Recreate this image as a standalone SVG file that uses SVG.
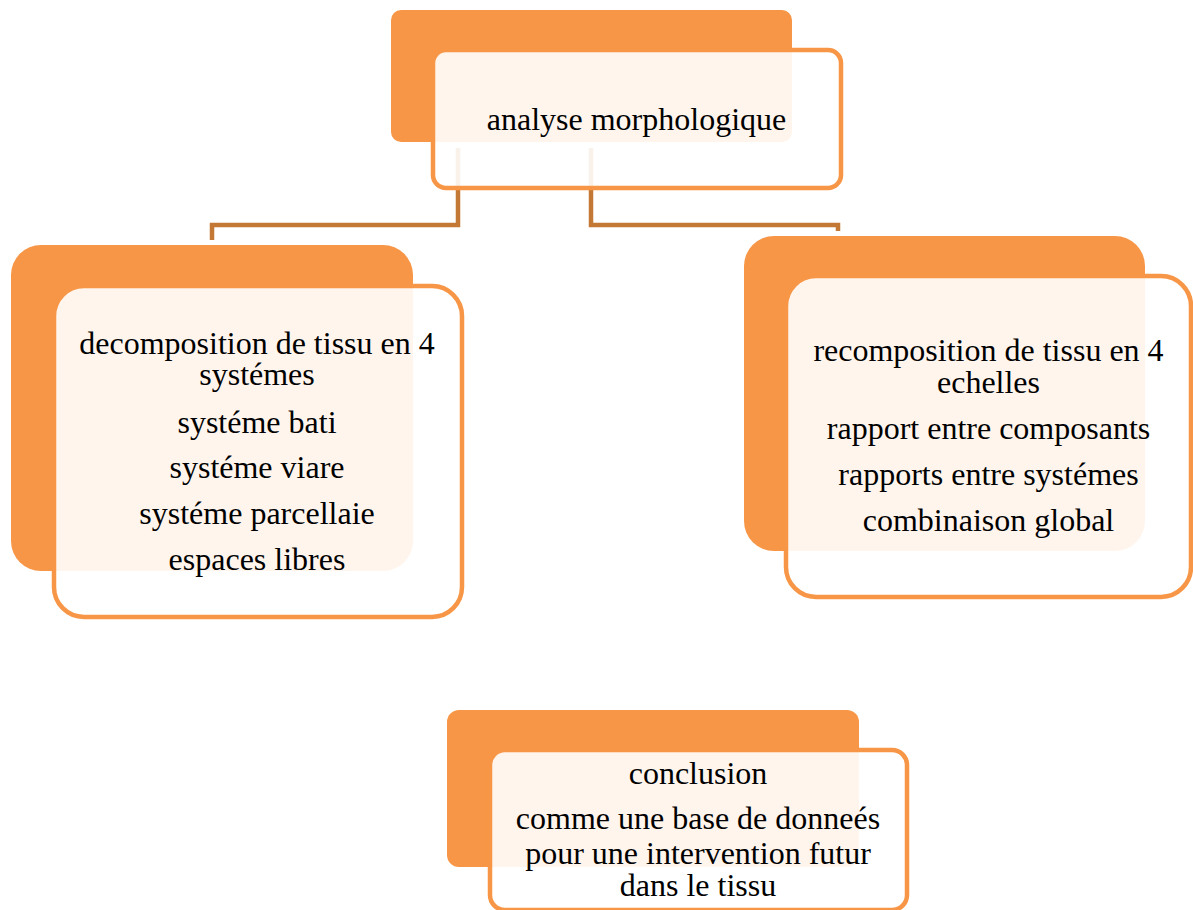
<svg xmlns="http://www.w3.org/2000/svg" width="1193" height="910" viewBox="0 0 1193 910">
<style>
.back{fill:#F79646}
.front{fill:#FFFFFF;fill-opacity:0.9;stroke:#F79646;stroke-width:4.5}
.conn{fill:none;stroke:#C47835;stroke-width:4.5}
text{font-family:"Liberation Serif","Times New Roman",serif;font-size:32px;fill:#000;text-anchor:middle}
</style>
<rect width="1193" height="910" fill="#FFFFFF"/>
<g id="connectors">
<path class="conn" d="M458,148 V225 H212 V240"/>
<path class="conn" d="M591,148 V225 H838 V231"/>
</g>
<g id="node-analyse">
<rect class="back" x="391" y="10" width="401" height="132" rx="10"/>
<rect class="front" x="433" y="50" width="408" height="138" rx="13"/>
<text x="636.5" y="130">analyse morphologique</text>
</g>
<g id="node-decomposition">
<rect class="back" x="11" y="245" width="402" height="326" rx="30"/>
<rect class="front" x="54" y="286" width="408" height="331" rx="30"/>
<text x="257" y="354">decomposition de tissu en 4</text>
<text x="257" y="385">systémes</text>
<text x="257" y="433">systéme bati</text>
<text x="257" y="478">systéme viare</text>
<text x="257" y="524">systéme parcellaie</text>
<text x="257" y="570">espaces libres</text>
</g>
<g id="node-recomposition">
<rect class="back" x="744" y="236" width="401" height="315" rx="30"/>
<rect class="front" x="786" y="276" width="405" height="321" rx="30"/>
<text x="988.5" y="361">recomposition de tissu en 4</text>
<text x="988.5" y="393">echelles</text>
<text x="988.5" y="439">rapport entre composants</text>
<text x="988.5" y="485">rapports entre systémes</text>
<text x="988.5" y="531">combinaison global</text>
</g>
<g id="node-conclusion">
<rect class="back" x="447" y="710" width="412" height="157" rx="12"/>
<rect class="front" x="490" y="750" width="417" height="160" rx="15"/>
<text x="698" y="784">conclusion</text>
<text x="698" y="829">comme une base de donneés</text>
<text x="698" y="864">pour une intervention futur</text>
<text x="698" y="896">dans le tissu</text>
</g>
</svg>
